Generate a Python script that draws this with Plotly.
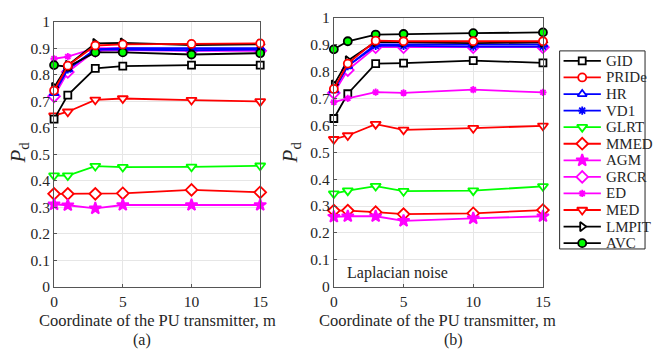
import plotly.graph_objects as go

x_coord = [0, 1, 3, 5, 10, 15]
methods = ["GID", "PRIDe", "HR", "VD1", "GLRT", "MMED", "AGM", "GRCR", "ED", "MED", "LMPIT", "AVC"]

# (a) Gaussian noise
a_GID   = [0.632, 0.723, 0.824, 0.832, 0.836, 0.836]
a_PRIDe = [0.740, 0.834, 0.910, 0.914, 0.916, 0.918]
a_HR    = [0.730, 0.820, 0.895, 0.900, 0.900, 0.900]
a_VD1   = [0.735, 0.820, 0.895, 0.895, 0.892, 0.895]
a_GLRT  = [0.419, 0.419, 0.455, 0.451, 0.452, 0.456]
a_MMED  = [0.350, 0.350, 0.350, 0.352, 0.365, 0.356]
a_AGM   = [0.310, 0.307, 0.295, 0.308, 0.308, 0.308]
a_GRCR  = [0.718, 0.810, 0.890, 0.893, 0.890, 0.890]
a_ED    = [0.860, 0.868, 0.900, 0.900, 0.896, 0.896]
a_MED   = [0.645, 0.660, 0.705, 0.710, 0.704, 0.699]
a_LMPIT = [0.752, 0.835, 0.918, 0.920, 0.912, 0.915]
a_AVC   = [0.836, 0.830, 0.884, 0.884, 0.876, 0.881]

# (b) Laplacian noise
b_GID   = [0.625, 0.717, 0.829, 0.831, 0.840, 0.832]
b_PRIDe = [0.735, 0.829, 0.914, 0.912, 0.912, 0.912]
b_HR    = [0.730, 0.820, 0.900, 0.900, 0.900, 0.900]
b_VD1   = [0.735, 0.820, 0.895, 0.895, 0.892, 0.892]
b_GLRT  = [0.346, 0.357, 0.374, 0.355, 0.357, 0.373]
b_MMED  = [0.283, 0.283, 0.277, 0.270, 0.273, 0.285]
b_AGM   = [0.260, 0.262, 0.262, 0.245, 0.254, 0.262]
b_GRCR  = [0.720, 0.805, 0.890, 0.890, 0.890, 0.890]
b_ED    = [0.686, 0.700, 0.723, 0.720, 0.732, 0.722]
b_MED   = [0.548, 0.562, 0.604, 0.583, 0.589, 0.598]
b_LMPIT = [0.750, 0.840, 0.910, 0.908, 0.905, 0.908]
b_AVC   = [0.882, 0.912, 0.937, 0.939, 0.942, 0.945]

data_a = dict(GID=a_GID, PRIDe=a_PRIDe, HR=a_HR, VD1=a_VD1, GLRT=a_GLRT, MMED=a_MMED,
              AGM=a_AGM, GRCR=a_GRCR, ED=a_ED, MED=a_MED, LMPIT=a_LMPIT, AVC=a_AVC)
data_b = dict(GID=b_GID, PRIDe=b_PRIDe, HR=b_HR, VD1=b_VD1, GLRT=b_GLRT, MMED=b_MMED,
              AGM=b_AGM, GRCR=b_GRCR, ED=b_ED, MED=b_MED, LMPIT=b_LMPIT, AVC=b_AVC)

K, R, B, G, M = "#000000", "#ff0000", "#0000ff", "#00ff00", "#ff00ff"
styles = {
    "GID":   dict(color=K, symbol="square", fill="white", size=7),
    "PRIDe": dict(color=R, symbol="circle", fill="white", size=8),
    "HR":    dict(color=B, symbol="triangle-up", fill="white", size=8),
    "VD1":   dict(color=B, symbol="asterisk-open", fill=B, size=7),
    "GLRT":  dict(color=G, symbol="triangle-down", fill="white", size=9),
    "MMED":  dict(color=R, symbol="diamond", fill="white", size=9),
    "AGM":   dict(color=M, symbol="star", fill=M, size=9),
    "GRCR":  dict(color=M, symbol="diamond", fill="white", size=9),
    "ED":    dict(color=M, symbol="asterisk-open", fill=M, size=6),
    "MED":   dict(color=R, symbol="triangle-down", fill="white", size=9),
    "LMPIT": dict(color=K, symbol="triangle-right", fill="white", size=8),
    "AVC":   dict(color=K, symbol="circle", fill=G, size=8),
}
draw_order = ["GLRT", "MMED", "AGM", "MED", "GID", "ED", "GRCR", "HR", "VD1", "LMPIT", "AVC", "PRIDe"]

W, H = 655, 356
FF = "Liberation Serif"
TXT = "#262626"


def mk(name, x, y, xa, ya, opacity=None):
    s = styles[name]
    edge = K if name == "AVC" else s["color"]
    return go.Scatter(
        x=x, y=y, name=name, xaxis=xa, yaxis=ya, showlegend=False,
        mode="lines+markers", cliponaxis=False,
        line=dict(color=edge, width=1.8),
        marker=dict(symbol=s["symbol"], size=s["size"], color=s["fill"],
                    opacity=opacity, line=dict(color=edge, width=1.8)),
    )


fig = go.Figure()
for data, xa, ya in [(data_a, "x", "y"), (data_b, "x2", "y2")]:
    for name in draw_order:
        fig.add_trace(mk(name, x_coord, data[name], xa, ya))

# custom legend (hidden axis in pixel-like units)
LEG_X0, LEG_X1, LEG_Y0, LEG_Y1 = 566, 653, 44, 252
row0, row_h = 54.5, 17.4
ann = []
for i, name in enumerate(methods):
    yi = row0 + i * row_h
    fig.add_trace(mk(name, [570, 589, 608], [yi] * 3, "x3", "y3", opacity=[0, 1, 0]))
    ann.append(dict(x=611, y=yi, xref="x3", yref="y3", showarrow=False,
                    xanchor="left", yanchor="middle", text=name,
                    font=dict(family=FF, size=15, color=TXT)))

axis_common = dict(showline=True, mirror=True, linecolor="#555555", linewidth=1,
                   showgrid=True, gridcolor="#e6e6e6", zeroline=False,
                   ticks="inside", ticklen=3, tickcolor="#555555",
                   tickfont=dict(family=FF, size=15.5, color=TXT))
hidden = dict(visible=False, showgrid=False, zeroline=False)

fig.update_layout(
    width=W, height=H, margin=dict(l=0, r=0, t=0, b=0),
    paper_bgcolor="white", plot_bgcolor="white",
    font=dict(family=FF, color=TXT),
    showlegend=False,
    xaxis=dict(domain=[51 / W, 261 / W], range=[0, 15], tickvals=[0, 5, 10, 15], anchor="y",
               ticklabelstandoff=1, **axis_common),
    yaxis=dict(domain=[1 - 291.5 / H, 1 - 13.3 / H], range=[0, 1], dtick=0.1, anchor="x", **axis_common),
    xaxis2=dict(domain=[336 / W, 549 / W], range=[0, 15], tickvals=[0, 5, 10, 15], anchor="y2",
                ticklabelstandoff=1, **axis_common),
    yaxis2=dict(domain=[1 - 291.7 / H, 1 - 9 / H], range=[0, 1], dtick=0.1, anchor="x2", **axis_common),
    xaxis3=dict(domain=[LEG_X0 / W, LEG_X1 / W], range=[LEG_X0, LEG_X1], anchor="y3", **hidden),
    yaxis3=dict(domain=[1 - LEG_Y1 / H, 1 - LEG_Y0 / H], range=[LEG_Y1, LEG_Y0], anchor="x3", **hidden),
    shapes=[dict(type="rect", xref="paper", yref="paper", layer="below",
                 x0=LEG_X0 / W, x1=LEG_X1 / W, y0=1 - LEG_Y1 / H, y1=1 - LEG_Y0 / H,
                 line=dict(color=TXT, width=1), fillcolor="white")],
)

for cx in [156, 442]:
    ann.append(dict(x=cx / W, y=1 - 327 / H, xref="paper", yref="paper", showarrow=False,
                    xanchor="center", yanchor="middle",
                    text="Coordinate of the PU transmitter, m",
                    font=dict(family=FF, size=16.5, color=TXT)))
for cx, lbl in [(141, "(a)"), (458, "(b)")]:
    ann.append(dict(x=cx / W, y=1 - 348 / H, xref="paper", yref="paper", showarrow=False,
                    xanchor="center", yanchor="middle",
                    text=lbl, font=dict(family=FF, size=16, color=TXT)))
for cx in [15, 292]:
    ann.append(dict(x=cx / W, y=1 - 151 / H, xref="paper", yref="paper", showarrow=False,
                    xanchor="center", yanchor="middle",
                    text="<i>P</i><sub>d</sub>", textangle=-90,
                    font=dict(family=FF, size=21, color=TXT)))
ann.append(dict(x=347 / W, y=1 - 277 / H, xref="paper", yref="paper", showarrow=False,
                xanchor="left", yanchor="middle", text="Laplacian noise",
                font=dict(family=FF, size=16, color=TXT)))
fig.update_layout(annotations=ann)

fig.write_html("out.html")
